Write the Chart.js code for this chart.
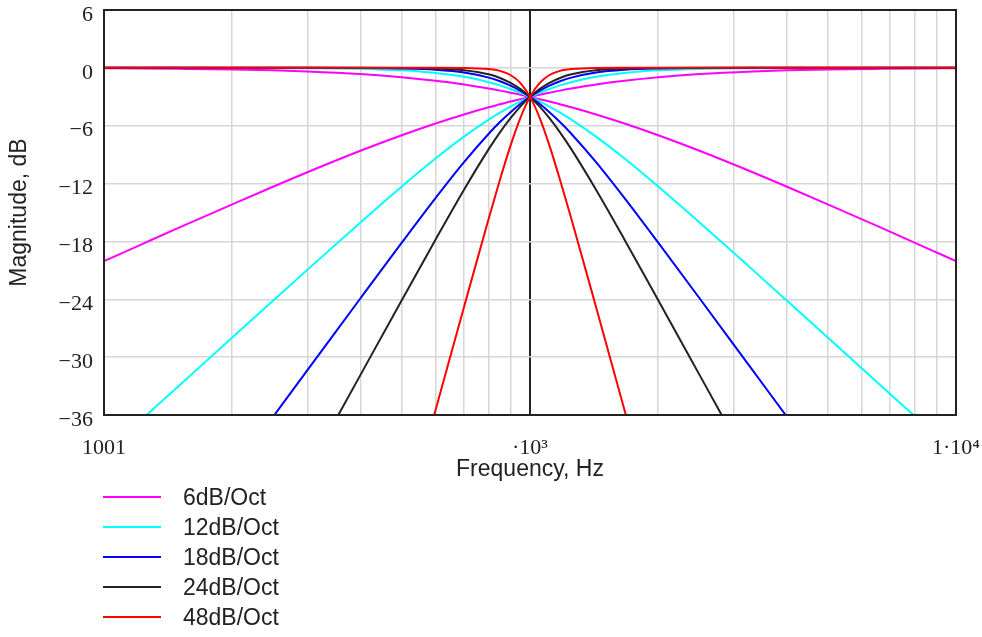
<!DOCTYPE html>
<html>
<head>
<meta charset="utf-8">
<script src="https://cdn.jsdelivr.net/npm/chart.js@4.4.1/dist/chart.umd.min.js"></script>
<style>
  body { margin: 0; background: #fff; }
  #wrap { position: relative; width: 982px; height: 637px; }
  #legend { position: absolute; left: 103px; top: 482px; font: 23px "Liberation Sans", Arial, sans-serif; color: #222; }
  .item { height: 30px; display: flex; align-items: center; }
  .swatch { width: 58px; height: 2px; margin-right: 22px; }
</style>
</head>
<body>
<div id="wrap">
  <canvas id="chart" width="982" height="485"></canvas>
  <div id="legend"></div>
</div>
<script>
// frequency points, Hz
const freqs = [100, 120, 150, 200, 250, 300, 400, 500, 600, 700, 800, 850, 900, 950, 1000,
               1053, 1111, 1176, 1250, 1429, 1667, 2000, 2500, 3333, 4000, 5000, 6667, 8333, 10000];

// high-pass magnitudes, dB
const hp6  = [-20.04, -18.48, -16.57, -14.15, -12.30, -10.83, -8.60, -6.99, -5.77, -4.83, -4.09, -3.78, -3.49, -3.24, -3.01,
              -2.79, -2.58, -2.36, -2.15, -1.73, -1.34, -0.97, -0.64, -0.37, -0.26, -0.17, -0.10, -0.06, -0.04];
const hp12 = [-40.00, -36.83, -32.96, -27.97, -24.10, -20.95, -16.03, -12.30, -9.40, -7.13, -5.37, -4.65, -4.02, -3.48, -3.01,
              -2.59, -2.19, -1.82, -1.49, -0.93, -0.53, -0.26, -0.11, -0.04, -0.02, -0.01, 0, 0, 0];
const hp18 = [-60.00, -55.25, -49.43, -41.94, -36.12, -31.38, -23.89, -18.13, -13.51, -9.78, -6.83, -5.62, -4.60, -3.73, -3.01,
              -2.39, -1.85, -1.39, -1.01, -0.48, -0.20, -0.07, -0.02, 0, 0, 0, 0, 0, 0];
const hp24 = [-80.00, -73.67, -65.91, -55.92, -48.16, -41.83, -31.84, -24.10, -17.82, -12.64, -8.43, -6.69, -5.22, -3.99, -3.01,
              -2.21, -1.56, -1.05, -0.67, -0.24, -0.07, -0.02, 0, 0, 0, 0, 0, 0, 0];
const hp48 = [-160.0, -147.3, -131.8, -111.8, -96.3, -83.7, -63.67, -48.16, -35.50, -24.80, -15.63, -11.60, -8.06, -5.15, -3.01,
              -1.58, -0.74, -0.31, -0.12, -0.01, 0, 0, 0, 0, 0, 0, 0, 0, 0];

// low-pass magnitudes, dB
const lp6  = [-0.04, -0.06, -0.10, -0.17, -0.26, -0.37, -0.64, -0.97, -1.34, -1.73, -2.15, -2.36, -2.58, -2.79, -3.01,
              -3.24, -3.49, -3.78, -4.09, -4.83, -5.77, -6.99, -8.60, -10.83, -12.30, -14.15, -16.57, -18.48, -20.04];
const lp12 = [0, 0, 0, -0.01, -0.02, -0.04, -0.11, -0.26, -0.53, -0.93, -1.49, -1.82, -2.19, -2.59, -3.01,
              -3.48, -4.02, -4.65, -5.37, -7.13, -9.40, -12.30, -16.03, -20.95, -24.10, -27.97, -32.96, -36.83, -40.00];
const lp18 = [0, 0, 0, 0, 0, 0, -0.02, -0.07, -0.20, -0.48, -1.01, -1.39, -1.85, -2.39, -3.01,
              -3.73, -4.60, -5.62, -6.83, -9.78, -13.51, -18.13, -23.89, -31.38, -36.12, -41.94, -49.43, -55.25, -60.00];
const lp24 = [0, 0, 0, 0, 0, 0, 0, -0.02, -0.07, -0.24, -0.67, -1.05, -1.56, -2.21, -3.01,
              -3.99, -5.22, -6.69, -8.43, -12.64, -17.82, -24.10, -31.84, -41.83, -48.16, -55.92, -65.91, -73.67, -80.00];
const lp48 = [0, 0, 0, 0, 0, 0, 0, 0, 0, -0.01, -0.12, -0.31, -0.74, -1.58, -3.01,
              -5.15, -8.06, -11.60, -15.63, -24.80, -35.50, -48.16, -63.67, -83.7, -96.3, -111.8, -131.8, -147.3, -160.0];

const seriesNames = ['6dB/Oct', '12dB/Oct', '18dB/Oct', '24dB/Oct', '48dB/Oct'];
const seriesColors = ['#ff00ff', '#00ffff', '#0000ff', '#222222', '#ff0000'];
const highPass = [hp6, hp12, hp18, hp24, hp48];
const lowPass = [lp6, lp12, lp18, lp24, lp48];

const xTicks = [100, 200, 300, 400, 500, 600, 700, 800, 900, 1000,
                2000, 3000, 4000, 5000, 6000, 7000, 8000, 9000, 10000];
const xTickLabels = { 100: '1001', 1000: '\u00b710\u00b3', 10000: '1\u00b710\u2074' };
const yTicks = [6, 0, -6, -12, -18, -24, -30, -36];

const toPoints = vals => freqs.map((f, i) => ({ x: f, y: vals[i] }));

// red first so it ends up on top
const datasets = [];
for (let s = seriesNames.length - 1; s >= 0; s--) {
    [highPass[s], lowPass[s]].forEach(vals => {
        datasets.push({
            label: seriesNames[s],
            data: toPoints(vals),
            borderColor: seriesColors[s],
            borderWidth: 2,
            pointRadius: 0,
            cubicInterpolationMode: 'monotone',
            fill: false
        });
    });
}

const frame = {
    id: 'frame',
    afterDatasetsDraw(chart) {
        const a = chart.chartArea;
        const ctx = chart.ctx;
        ctx.save();
        ctx.strokeStyle = '#222';
        ctx.lineWidth = 2;
        ctx.strokeRect(a.left, a.top, a.right - a.left, a.bottom - a.top);
        ctx.restore();
    }
};

new Chart(document.getElementById('chart'), {
    type: 'line',
    data: { datasets },
    options: {
        responsive: false,
        animation: false,
        layout: { autoPadding: false, padding: { top: 10, right: 26, left: 0, bottom: 0 } },
        plugins: { legend: { display: false }, tooltip: { enabled: false } },
        scales: {
            x: {
                type: 'logarithmic',
                min: 100,
                max: 10000,
                afterBuildTicks: scale => { scale.ticks = xTicks.map(v => ({ value: v })); },
                afterFit: scale => { scale.height = 70; scale.paddingLeft = 0; scale.paddingRight = 0; },
                ticks: {
                    autoSkip: false,
                    maxRotation: 0,
                    padding: 20,
                    color: '#222',
                    font: { family: '"Liberation Serif", "Times New Roman", serif', size: 22 },
                    callback: v => xTickLabels[v] || ''
                },
                grid: {
                    drawTicks: false,
                    color: ctx => ctx.tick && ctx.tick.value === 1000 ? '#222' : '#d6d6d6',
                    lineWidth: ctx => ctx.tick && ctx.tick.value === 1000 ? 2 : 1.5
                },
                border: { display: false },
                title: {
                    display: true,
                    text: 'Frequency, Hz',
                    color: '#222',
                    padding: { top: 0, bottom: 2 },
                    font: { family: '"Liberation Sans", Arial, sans-serif', size: 23 }
                }
            },
            y: {
                min: -36,
                max: 6,
                afterBuildTicks: scale => { scale.ticks = yTicks.map(v => ({ value: v })); },
                afterFit: scale => { scale.width = 104; scale.paddingTop = 0; scale.paddingBottom = 0; },
                ticks: {
                    padding: 11,
                    labelOffset: 5,
                    color: '#222',
                    font: { family: '"Liberation Serif", "Times New Roman", serif', size: 22 },
                    callback: v => v < 0 ? '\u2212' + Math.abs(v) : String(v)
                },
                grid: { drawTicks: false, color: '#d6d6d6', lineWidth: 1.5 },
                border: { display: false },
                title: {
                    display: true,
                    text: 'Magnitude, dB',
                    color: '#222',
                    padding: { top: 6, bottom: 0 },
                    font: { family: '"Liberation Sans", Arial, sans-serif', size: 23 }
                }
            }
        }
    },
    plugins: [frame]
});

const legend = document.getElementById('legend');
seriesNames.forEach((name, i) => {
    const row = document.createElement('div');
    row.className = 'item';
    row.innerHTML = '<span class="swatch" style="background:' + seriesColors[i] + '"></span><span>' + name + '</span>';
    legend.appendChild(row);
});
</script>
</body>
</html>
